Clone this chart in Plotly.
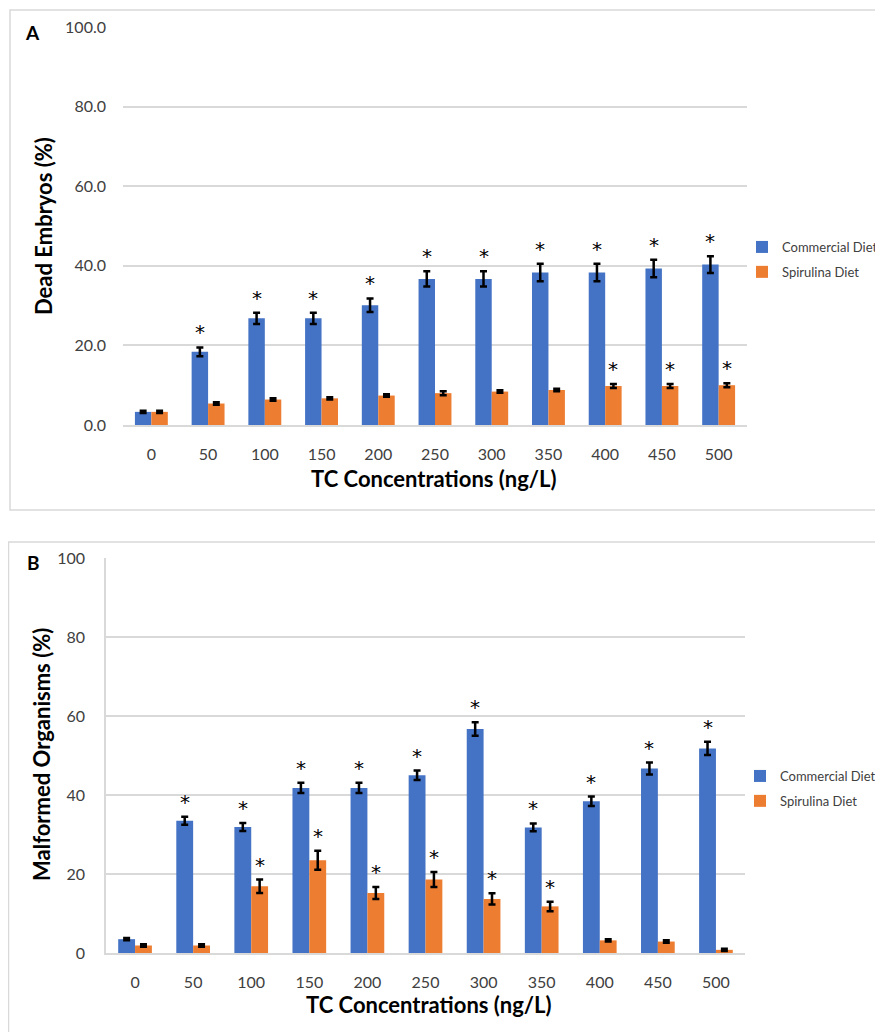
import plotly.graph_objects as go

# page has an 8px body margin; figure is sized so that it fills the 883x1032 window
OFFSET = 8
W, H = 875, 1024

categories = ["0", "50", "100", "150", "200", "250", "300", "350", "400", "450", "500"]
series_names = ["Commercial Diet", "Spirulina Diet"]

# Panel A: Dead Embryos (%)
deadA_commercial = [3.3, 18.4, 26.8, 26.8, 30.1, 36.7, 36.7, 38.3, 38.3, 39.3, 40.3]
deadA_commercial_err = [0.3, 1.1, 1.4, 1.4, 1.7, 1.9, 1.9, 2.2, 2.2, 2.2, 2.1]
deadA_spirulina = [3.3, 5.4, 6.4, 6.7, 7.4, 8.0, 8.4, 8.8, 9.8, 9.8, 10.0]
deadA_spirulina_err = [0.3, 0.3, 0.3, 0.3, 0.3, 0.5, 0.3, 0.3, 0.5, 0.5, 0.5]
deadA_commercial_sig = [0, 1, 1, 1, 1, 1, 1, 1, 1, 1, 1]
deadA_spirulina_sig = [0, 0, 0, 0, 0, 0, 0, 0, 1, 1, 1]

# Panel B: Malformed Organisms (%)
malB_commercial = [3.5, 33.5, 31.9, 41.8, 41.8, 45.0, 56.7, 31.8, 38.4, 46.7, 51.8]
malB_commercial_err = [0.3, 1.0, 1.0, 1.3, 1.3, 1.2, 1.7, 1.0, 1.2, 1.5, 1.7]
malB_spirulina = [1.9, 1.9, 16.9, 23.5, 15.2, 18.6, 13.7, 11.8, 3.2, 2.9, 0.8]
malB_spirulina_err = [0.3, 0.3, 1.7, 2.4, 1.5, 1.9, 1.4, 1.2, 0.3, 0.3, 0.3]
malB_commercial_sig = [0, 1, 1, 1, 1, 1, 1, 1, 1, 1, 1]
malB_spirulina_sig = [0, 0, 1, 1, 1, 1, 1, 1, 0, 0, 0]

yticksA = [0, 20, 40, 60, 80, 100]
yticksB = [0, 20, 40, 60, 80, 100]

BLUE = "#4472C4"
ORANGE = "#ED7D31"
GRID = "#D9D9D9"
TXT = "#404040"
FONT = "Lato, Carlito, 'Open Sans', sans-serif"
BARGAP = 0.42

def px(x):
    return (x - OFFSET) / W

def py(y):
    return 1 - (y - OFFSET) / H

fig = go.Figure()

def add_bars(vals, errs, name, color, xa, ya, legend):
    fig.add_trace(go.Bar(
        x=categories, y=vals, name=name,
        marker=dict(color=color, line=dict(width=0)),
        error_y=dict(type="data", array=errs, visible=True, color="black",
                     thickness=2.5, width=3.5),
        xaxis=xa, yaxis=ya, legend=legend, legendgroup=legend + name,
    ))

add_bars(deadA_commercial, deadA_commercial_err, series_names[0], BLUE, "x", "y", "legend")
add_bars(deadA_spirulina, deadA_spirulina_err, series_names[1], ORANGE, "x", "y", "legend")
add_bars(malB_commercial, malB_commercial_err, series_names[0], BLUE, "x2", "y2", "legend2")
add_bars(malB_spirulina, malB_spirulina_err, series_names[1], ORANGE, "x2", "y2", "legend2")

annotations = []
off = (1 - BARGAP) / 4

def add_stars(vals, errs, sig, shift, xref, yref):
    for i, (v, e, s) in enumerate(zip(vals, errs, sig)):
        if s:
            annotations.append(dict(
                x=i + shift, y=v + e, xref=xref, yref=yref, text="*",
                showarrow=False, xanchor="center", yanchor="bottom", yshift=1,
                font=dict(family="DejaVu Sans", size=20, color="black"),
            ))

add_stars(deadA_commercial, deadA_commercial_err, deadA_commercial_sig, -off, "x", "y")
add_stars(deadA_spirulina, deadA_spirulina_err, deadA_spirulina_sig, off, "x", "y")
add_stars(malB_commercial, malB_commercial_err, malB_commercial_sig, -off, "x2", "y2")
add_stars(malB_spirulina, malB_spirulina_err, malB_spirulina_sig, off, "x2", "y2")

# axis titles & panel letters
title_font = dict(family=FONT, size=22, color="black", weight="bold")

def label(x, y, text, font, angle=0):
    return dict(x=px(x), y=py(y), xref="paper", yref="paper", text=text,
                textangle=angle, showarrow=False, xanchor="center", yanchor="middle",
                font=font)

letter_font = dict(family=FONT, size=19, color="black", weight="bold")
annotations += [
    label(43, 226, "Dead Embryos (%)", title_font, -90),
    label(434, 478, "TC Concentrations (ng/L)", title_font),
    label(41, 755, "Malformed Organisms (%)", title_font, -90),
    label(429, 1004, "TC Concentrations (ng/L)", title_font),
    label(32, 32, "A", letter_font),
    label(33, 562, "B", letter_font),
]

shapes = [
    dict(type="rect", xref="paper", yref="paper", x0=px(10), x1=px(905), y0=py(510), y1=py(10),
         line=dict(color=GRID, width=1.5), fillcolor="rgba(0,0,0,0)"),
    dict(type="rect", xref="paper", yref="paper", x0=px(8.5), x1=px(905), y0=py(1050), y1=py(542),
         line=dict(color=GRID, width=1.5), fillcolor="rgba(0,0,0,0)"),
]

tick_font = dict(family=FONT, size=16, color=TXT)
legend_font = dict(family=FONT, size=13, color=TXT)

fig.update_layout(
    width=W, height=H,
    margin=dict(l=0, r=0, t=0, b=0, autoexpand=False),
    paper_bgcolor="white", plot_bgcolor="white",
    barmode="group", bargap=BARGAP, bargroupgap=0,
    font=dict(family=FONT),
    annotations=annotations, shapes=shapes,
    xaxis=dict(domain=[px(123), px(747)], anchor="y", type="category",
               showgrid=False, showline=True, linecolor=GRID, linewidth=1.5,
               ticks="", tickfont=tick_font, ticklabelstandoff=14, fixedrange=True),
    yaxis=dict(domain=[py(425), py(27)], anchor="x", range=[0, 100],
               tickvals=yticksA, tickformat=".1f", showgrid=True, gridcolor=GRID,
               gridwidth=1.5, zeroline=False, showline=False, ticks="",
               tickfont=tick_font, ticklabelstandoff=16),
    xaxis2=dict(domain=[px(106), px(745)], anchor="y2", type="category",
                showgrid=False, showline=True, linecolor=GRID, linewidth=1.5,
                ticks="", tickfont=tick_font, ticklabelstandoff=14),
    yaxis2=dict(domain=[py(953), py(558)], anchor="x2", range=[0, 100],
                tickvals=yticksB, showgrid=True, gridcolor=GRID, gridwidth=1.5,
                zeroline=False, showline=True, linecolor=GRID, linewidth=1.5,
                ticks="", tickfont=tick_font, ticklabelstandoff=16),
    legend=dict(x=px(742), y=py(232), xanchor="left", yanchor="top",
                font=legend_font, bgcolor="rgba(0,0,0,0)", itemwidth=30,
                tracegroupgap=5, traceorder="grouped"),
    legend2=dict(x=px(740), y=py(761), xanchor="left", yanchor="top",
                 font=legend_font, bgcolor="rgba(0,0,0,0)", itemwidth=30,
                 tracegroupgap=5, traceorder="grouped"),
)

fig.write_html("out.html")
